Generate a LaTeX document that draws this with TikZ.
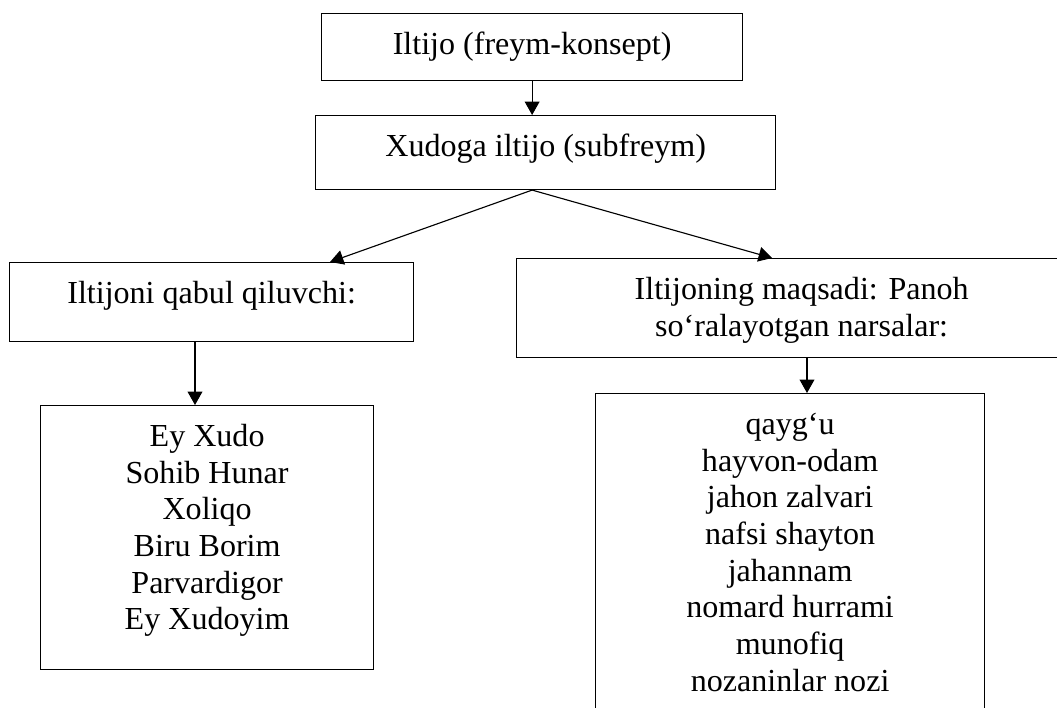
\documentclass[tikz,border=0pt]{standalone}
\usepackage{fontspec}
\setmainfont{Liberation Serif}
\usetikzlibrary{arrows.meta}

\tikzset{
  frame/.style={draw, line width=0.8pt, inner sep=0pt, anchor=north west,
    align=center, font=\fontsize{22.8}{26.1}\selectfont, text height=29pt},
}

\begin{document}
\begin{tikzpicture}[x=0.025cm, y=-0.025cm, line width=0.8pt,
    >={Triangle[width=10.5pt,length=9.5pt]}]
  \useasboundingbox (0,0) rectangle (1057,708);
  \clip (0,0) rectangle (1057,708);
  % Top boxes
  \node[frame, minimum width=10.525cm, text depth=18.5pt] (konsept) at (321,13) {Iltijo (freym-konsept)};
  \node[frame, minimum width=11.5cm, text depth=23.6pt] (subfreym) at (315,115) {Xudoga iltijo (subfreym)};
  % Second row
  \node[frame, minimum width=10.1cm, text depth=27.2pt] (qabul) at (9,262) {Iltijoni qabul qiluvchi:};
  \node[frame, minimum width=14.25cm, text height=55.1pt, text depth=15.3pt] (maqsad) at (516,258)
    {Iltijoning maqsadi: Panoh\\so‘ralayotgan narsalar:};
  % Lists
  \node[frame, minimum width=8.325cm, text height=159.5pt, text depth=28.3pt] (nomlar) at (40,405)
    {Ey Xudo\\Sohib Hunar\\Xoliqo\\Biru Borim\\Parvardigor\\Ey Xudoyim};
  \node[frame, minimum width=9.725cm, text height=211.7pt, text depth=28pt] (narsalar) at (595,393)
    {qayg‘u\\hayvon-odam\\jahon zalvari\\nafsi shayton\\jahannam\\nomard hurrami\\munofiq\\nozaninlar nozi};
  % Arrow positions
  \coordinate (qabulx) at (330,0);
  \coordinate (maqsadx) at (772,0);
  \coordinate (nomlarx) at (195,0);
  \coordinate (narsalarx) at (807,0);
  % Arrows
  \draw[->] (konsept.south) -- (konsept.south |- subfreym.north);
  \draw[->] (konsept.south |- subfreym.south) -- (qabul.north -| qabulx);
  \draw[->] (konsept.south |- subfreym.south) -- (maqsad.north -| maqsadx);
  \draw[->] (qabul.south -| nomlarx) -- (nomlar.north -| nomlarx);
  \draw[->] (maqsad.south -| narsalarx) -- (narsalar.north -| narsalarx);
\end{tikzpicture}
\end{document}
